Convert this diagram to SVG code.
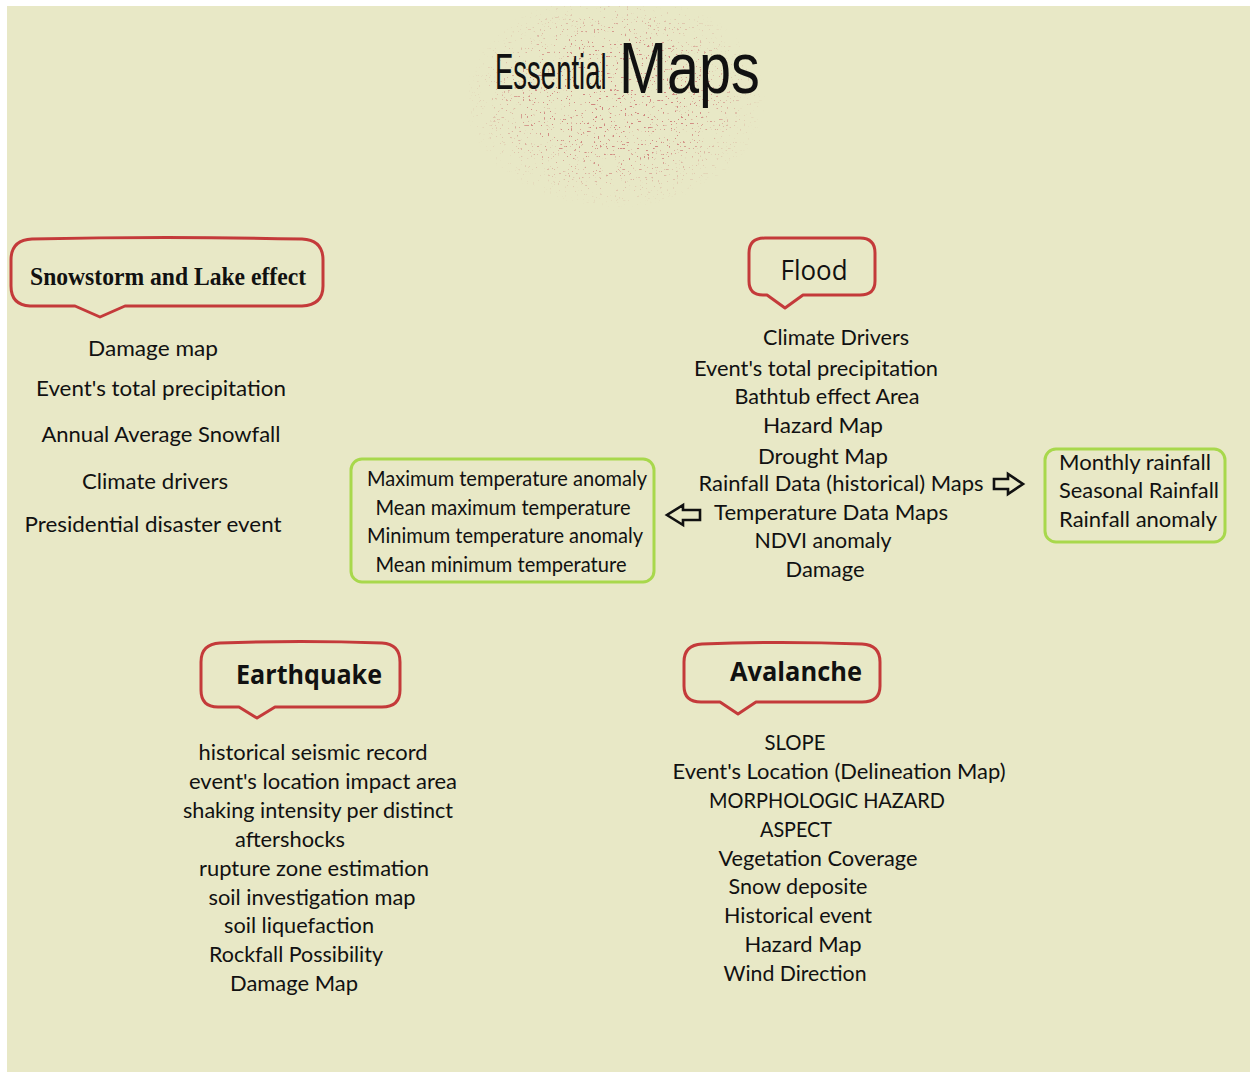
<svg xmlns="http://www.w3.org/2000/svg" width="1250" height="1072" viewBox="0 0 1250 1072">
  <defs>
    <style>
      .t { font-family: Lato, "Open Sans", "Liberation Sans", sans-serif; font-size: 21px; fill: #111; text-anchor: middle; }
      .ts { text-anchor: start; }
      .head { font-family: "Open Sans", Lato, "Liberation Sans", sans-serif; font-size: 27px; fill: #111; text-anchor: middle; }
      .bold { font-weight: bold; }
      .serif { font-family: "Liberation Serif", "DejaVu Serif", serif; font-weight: bold; font-size: 25px; fill: #111; }
      .callout { fill: none; stroke: #c43a3a; stroke-width: 3; stroke-linejoin: round; }
      .box { fill: none; stroke: #a8d84c; stroke-width: 3; }
      .arrow { fill: none; stroke: #111; stroke-width: 2.6; stroke-linejoin: miter; }
      .title { font-family: "Liberation Sans", Arial, sans-serif; fill: #111; }
    </style>
    <!-- reddish-brown speckle noise for the title splash -->
    <filter id="speck" x="0" y="0" width="1" height="1" filterUnits="objectBoundingBox">
      <feTurbulence type="fractalNoise" baseFrequency="0.48" numOctaves="1" seed="11" result="n"/>
      <feColorMatrix in="n" type="matrix" values="0 0 0 0 0.62  0 0 0 0 0.22  0 0 0 0 0.2  22 0 0 0 -14.7"/>
    </filter>
    <radialGradient id="fade" cx="0.5" cy="0.5" r="0.5">
      <stop offset="0" stop-color="#fff" stop-opacity="1"/>
      <stop offset="0.55" stop-color="#fff" stop-opacity="0.9"/>
      <stop offset="1" stop-color="#fff" stop-opacity="0"/>
    </radialGradient>
    <mask id="splashMask" maskUnits="userSpaceOnUse" x="460" y="0" width="330" height="215">
      <ellipse cx="615" cy="100" rx="150" ry="108" fill="url(#fade)"/>
    </mask>
  </defs>

  <!-- page -->
  <rect x="0" y="0" width="1250" height="1072" fill="#ffffff"/>
  <rect x="7" y="6" width="1243" height="1066" fill="#e8e8c6"/>

  <!-- title -->
  <g id="title">
    <rect x="460" y="6" width="330" height="205" fill="#000" filter="url(#speck)" mask="url(#splashMask)"/>
    <text class="title" font-size="50" transform="translate(495,89) scale(0.55,1)">Essential</text>
    <text class="title" font-size="72" transform="translate(619,93) scale(0.8,1)">Maps</text>
  </g>

  <!-- Snowstorm and Lake effect -->
  <g id="snowstorm">
    <path class="callout" d="M32,239 Q166,236 302,239 Q323,240 323,260 L323,286 Q323,305 302,306 L125,306 L100,317 L75,306 L30,306 Q11,305 11,286 L11,260 Q11,240 32,239 Z"/>
    <text class="serif" x="30" y="285" textLength="276" lengthAdjust="spacingAndGlyphs">Snowstorm and Lake effect</text>
    <text class="t" x="153" y="356" textLength="130" lengthAdjust="spacingAndGlyphs">Damage map</text>
    <text class="t" x="161" y="396" textLength="250" lengthAdjust="spacingAndGlyphs">Event's total precipitation</text>
    <text class="t" x="161" y="442" textLength="239" lengthAdjust="spacingAndGlyphs">Annual Average Snowfall</text>
    <text class="t" x="155" y="489" textLength="146" lengthAdjust="spacingAndGlyphs">Climate drivers</text>
    <text class="t" x="153" y="532" textLength="257" lengthAdjust="spacingAndGlyphs">Presidential disaster event</text>
  </g>

  <!-- Flood -->
  <g id="flood">
    <path class="callout" d="M765,238 L860,238 Q875,238 875,253 L875,281 Q875,295 860,295 L803,295 L785,308 L767,295 L763,295 Q749,295 749,281 L749,253 Q749,238 765,238 Z"/>
    <text class="head" x="814" y="280" textLength="67" lengthAdjust="spacingAndGlyphs">Flood</text>
    <text class="t" x="836" y="345" textLength="146" lengthAdjust="spacingAndGlyphs">Climate Drivers</text>
    <text class="t" x="816" y="376" textLength="244" lengthAdjust="spacingAndGlyphs">Event's total precipitation</text>
    <text class="t" x="827" y="404" textLength="185" lengthAdjust="spacingAndGlyphs">Bathtub effect Area</text>
    <text class="t" x="823" y="433" textLength="120" lengthAdjust="spacingAndGlyphs">Hazard Map</text>
    <text class="t" x="823" y="464" textLength="130" lengthAdjust="spacingAndGlyphs">Drought Map</text>
    <text class="t" x="841" y="491" textLength="285" lengthAdjust="spacingAndGlyphs">Rainfall Data (historical) Maps</text>
    <text class="t" x="831" y="520" textLength="234" lengthAdjust="spacingAndGlyphs">Temperature Data Maps</text>
    <text class="t" x="823" y="548" textLength="137" lengthAdjust="spacingAndGlyphs">NDVI anomaly</text>
    <text class="t" x="825" y="577" textLength="79" lengthAdjust="spacingAndGlyphs">Damage</text>
  </g>

  <!-- temperature detail box -->
  <g id="temperature">
    <rect class="box" x="351" y="459" width="303" height="123" rx="11"/>
    <text class="t" x="507" y="486" textLength="280" lengthAdjust="spacingAndGlyphs">Maximum temperature anomaly</text>
    <text class="t" x="503" y="515" textLength="255" lengthAdjust="spacingAndGlyphs">Mean maximum temperature</text>
    <text class="t" x="505" y="543" textLength="276" lengthAdjust="spacingAndGlyphs">Minimum temperature anomaly</text>
    <text class="t" x="501" y="572" textLength="251" lengthAdjust="spacingAndGlyphs">Mean minimum temperature</text>
  </g>

  <!-- rainfall detail box -->
  <g id="rainfall">
    <rect class="box" x="1045" y="449" width="180" height="93" rx="11"/>
    <text class="t ts" x="1059" y="470" textLength="152" lengthAdjust="spacingAndGlyphs">Monthly rainfall</text>
    <text class="t ts" x="1059" y="498" textLength="160" lengthAdjust="spacingAndGlyphs">Seasonal Rainfall</text>
    <text class="t ts" x="1059" y="527" textLength="158" lengthAdjust="spacingAndGlyphs">Rainfall anomaly</text>
  </g>

  <!-- Earthquake -->
  <g id="earthquake">
    <path class="callout" d="M220,643 Q300,640 382,643 Q400,644 400,662 L400,690 Q400,707 382,707 L275,707 L257,718 L239,707 L218,707 Q201,707 201,690 L201,662 Q201,644 220,643 Z"/>
    <text class="head bold" x="309" y="684" textLength="146" lengthAdjust="spacingAndGlyphs">Earthquake</text>
    <text class="t" x="313" y="760" textLength="229" lengthAdjust="spacingAndGlyphs">historical seismic record</text>
    <text class="t" x="323" y="789" textLength="268" lengthAdjust="spacingAndGlyphs">event's location impact area</text>
    <text class="t" x="318" y="818" textLength="270" lengthAdjust="spacingAndGlyphs">shaking intensity per distinct</text>
    <text class="t" x="290" y="847" textLength="110" lengthAdjust="spacingAndGlyphs">aftershocks</text>
    <text class="t" x="314" y="876" textLength="230" lengthAdjust="spacingAndGlyphs">rupture zone estimation</text>
    <text class="t" x="312" y="905" textLength="207" lengthAdjust="spacingAndGlyphs">soil investigation map</text>
    <text class="t" x="299" y="933" textLength="150" lengthAdjust="spacingAndGlyphs">soil liquefaction</text>
    <text class="t" x="296" y="962" textLength="174" lengthAdjust="spacingAndGlyphs">Rockfall Possibility</text>
    <text class="t" x="294" y="991" textLength="128" lengthAdjust="spacingAndGlyphs">Damage Map</text>
  </g>

  <!-- Avalanche -->
  <g id="avalanche">
    <path class="callout" d="M702,644 Q780,641 862,644 Q880,645 880,662 L880,686 Q880,702 862,702 L756,702 L738,714 L720,702 L701,702 Q684,702 684,686 L684,662 Q684,645 702,644 Z"/>
    <text class="head bold" x="796" y="681" textLength="132" lengthAdjust="spacingAndGlyphs">Avalanche</text>
    <text class="t" x="795" y="750" textLength="61" lengthAdjust="spacingAndGlyphs">SLOPE</text>
    <text class="t" x="839" y="779" textLength="333" lengthAdjust="spacingAndGlyphs">Event's Location (Delineation Map)</text>
    <text class="t" x="827" y="808" textLength="236" lengthAdjust="spacingAndGlyphs">MORPHOLOGIC HAZARD</text>
    <text class="t" x="796" y="837" textLength="72" lengthAdjust="spacingAndGlyphs">ASPECT</text>
    <text class="t" x="818" y="866" textLength="199" lengthAdjust="spacingAndGlyphs">Vegetation Coverage</text>
    <text class="t" x="798" y="894" textLength="139" lengthAdjust="spacingAndGlyphs">Snow deposite</text>
    <text class="t" x="798" y="923" textLength="148" lengthAdjust="spacingAndGlyphs">Historical event</text>
    <text class="t" x="803" y="952" textLength="117" lengthAdjust="spacingAndGlyphs">Hazard Map</text>
    <text class="t" x="795" y="981" textLength="143" lengthAdjust="spacingAndGlyphs">Wind Direction</text>
  </g>

  <!-- connectors: hollow block arrows -->
  <g id="connectors">
    <polygon class="arrow" points="994,479 1008,479 1008,474 1023,484 1008,494 1008,489 994,489"/>
    <polygon class="arrow" points="700,510 683,510 683,505 667,515 683,525 683,520 700,520"/>
  </g>
</svg>
